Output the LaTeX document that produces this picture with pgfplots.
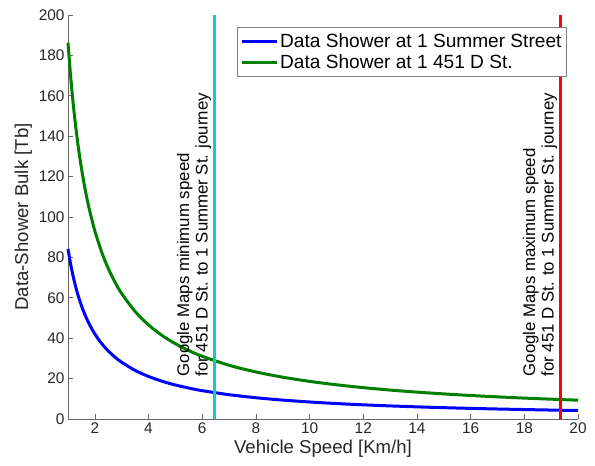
\documentclass[border=0pt]{standalone}
\usepackage{pgfplots}
\pgfplotsset{compat=1.18}
\usepackage{fontspec}
\setmainfont{Liberation Sans}
\definecolor{mblue}{rgb}{0,0,1}
\definecolor{mgreen}{rgb}{0,0.5,0}
\definecolor{mcyan}{rgb}{0.1,0.78,0.78}
\definecolor{mred}{rgb}{1,0,0}
\definecolor{axgray}{rgb}{0.15,0.15,0.15}
\begin{document}
\begin{tikzpicture}
\begin{axis}[
  scale only axis,
  width=510bp, height=404bp,
  xmin=1, xmax=20, ymin=0, ymax=200,
  xtick={2,4,...,20}, ytick={0,20,...,200},
  axis x line*=bottom, axis y line*=left,
  axis line style={draw=gray!80!black, line width=0.6bp, -},
  tick align=inside,
  major tick length=5bp,
  tick style={draw=gray!80!black, line width=0.6bp},
  /pgf/number format/assume math mode=true,
  ticklabel style={font=\fontsize{15.4bp}{17bp}\selectfont, text=axgray},
  label style={font=\fontsize{18.6bp}{21bp}\selectfont, text=axgray},
  xlabel={Vehicle Speed [Km/h]},
  ylabel={Data-Shower Bulk [Tb]},
  legend style={at={(0.978,0.970)}, anchor=north east, draw=gray, line width=0.6bp,
    font=\fontsize{19.1bp}{21bp}\selectfont, inner xsep=3bp, inner ysep=4bp, row sep=0bp, fill=white,
    nodes={inner ysep=2.6bp, inner xsep=2bp}},
  legend cell align=left,
  legend image code/.code={\draw[#1] (0bp,0bp) -- (35bp,0bp);},
  clip=false,
]
\addplot[mblue, line width=3bp, smooth] coordinates {
(1,84.2)(1.1,76.55)(1.2,70.17)(1.3,64.77)(1.4,60.14)(1.5,56.13)(1.6,52.63)(1.7,49.53)(1.8,46.78)(2,42.1)(2.25,37.42)(2.5,33.68)(2.75,30.62)(3,28.07)(3.5,24.06)(4,21.05)(4.5,18.71)(5,16.84)(5.5,15.31)(6,14.03)(7,12.03)(8,10.53)(9,9.36)(10,8.42)(11,7.65)(12,7.02)(13,6.48)(14,6.01)(15,5.61)(16,5.26)(17,4.95)(18,4.68)(19,4.43)(20,4.21)
};
\addlegendentry{Data Shower at 1 Summer Street}
\addplot[mgreen, line width=3bp, smooth] coordinates {
(1,186.3)(1.1,169.36)(1.2,155.25)(1.3,143.31)(1.4,133.07)(1.5,124.2)(1.6,116.44)(1.7,109.59)(1.8,103.5)(2,93.15)(2.25,82.8)(2.5,74.52)(2.75,67.75)(3,62.1)(3.5,53.23)(4,46.58)(4.5,41.4)(5,37.26)(5.5,33.87)(6,31.05)(7,26.61)(8,23.29)(9,20.7)(10,18.63)(11,16.94)(12,15.53)(13,14.33)(14,13.31)(15,12.42)(16,11.64)(17,10.96)(18,10.35)(19,9.81)(20,9.32)
};
\addlegendentry{Data Shower at 1 451 D St.}
\addplot[mcyan, line width=3bp, forget plot] coordinates {(6.44,0)(6.44,200)};
\addplot[mred, line width=3bp, forget plot] coordinates {(19.33,0)(19.33,200)};
\node[rotate=90, anchor=south west, align=left, inner sep=1bp, text=black,
  font=\fontsize{16.8bp}{18.5bp}\selectfont] at (axis cs:6.38,20.5)
  {Google Maps minimum speed\\for 451 D St. to 1 Summer St. journey};
\node[rotate=90, anchor=south west, align=left, inner sep=1bp, text=black,
  font=\fontsize{16.8bp}{18.5bp}\selectfont] at (axis cs:19.27,20.5)
  {Google Maps maximum speed\\for 451 D St. to 1 Summer St. journey};
\coordinate (ll) at (rel axis cs:0,0);
\coordinate (ur) at (rel axis cs:1,1);
\end{axis}
\pgfresetboundingbox
\path ([shift={(-68bp,-47bp)}]ll) rectangle ([shift={(17bp,15bp)}]ur);
\end{tikzpicture}
\end{document}
